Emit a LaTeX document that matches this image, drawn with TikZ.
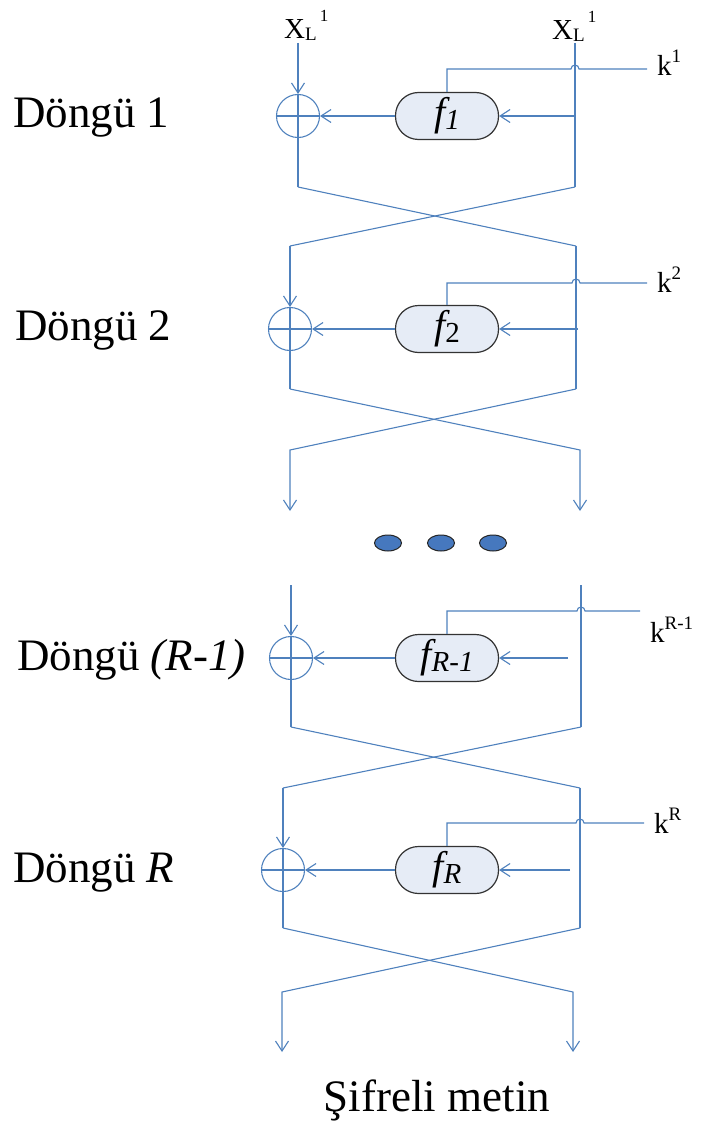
\documentclass[tikz,border=0pt]{standalone}
\usepackage{fontspec}
\setmainfont{Liberation Serif}
\usetikzlibrary{arrows.meta,shapes.geometric}

\definecolor{lineblue}{RGB}{79,129,189}
\definecolor{boxfill}{RGB}{230,236,246}
\definecolor{dotblue}{RGB}{70,120,190}

\newcommand{\bigtxt}{\fontsize{45}{50}\selectfont}
\newcommand{\midtxt}{\fontsize{29}{32}\selectfont}
\newcommand{\smtxt}{\fontsize{19}{21}\selectfont}
\newcommand{\fsub}[1]{{\fontsize{40}{44}\selectfont\itshape f}\raisebox{-4pt}{\fontsize{29}{32}\selectfont #1}}
\newcommand{\supx}[1]{\raisebox{13pt}{\smtxt #1}}
\newcommand{\xinput}{X\raisebox{-2pt}{\smtxt L}\hspace{3pt}\raisebox{17pt}{\fontsize{17}{19}\selectfont 1}}

\begin{document}
\begin{tikzpicture}[x=1pt,y=-1pt,
  wire/.style={draw=lineblue,line width=1.1pt},
  arr/.style={wire,-{Straight Barb[length=10pt,width=13pt]}},
  xorgate/.style={circle,draw=lineblue,line width=1.1pt,minimum size=43pt,inner sep=0pt,
    path picture={\draw[lineblue,line width=1.1pt] (path picture bounding box.west) -- (path picture bounding box.east);}},
  fbox/.style={draw=black!80,fill=boxfill,line width=1.2pt,rounded corners=23pt,
    minimum width=103pt,minimum height=47pt,inner sep=0pt},
  rnd/.style={anchor=base west,inner sep=0pt,font=\bigtxt},
  keylab/.style={anchor=base west,inner sep=0pt,font=\midtxt},
  dot/.style={ellipse,draw=black!85,fill=dotblue,line width=1pt,minimum width=27pt,minimum height=16pt,inner sep=0pt}
]
\useasboundingbox (0,0) rectangle (703,1126);

\node[keylab] (xa) at (284,39) {\xinput};
\node[keylab] (xb) at (552,40) {\xinput};

\foreach \i/\xl/\xr/\yt/\yf/\yk/\yb/\xin/\kx/\kb/\ft/\kt in {
  1/298/575/43/116/69/187/575/657/76/{\fsub{\itshape 1}}/1,
  2/290/576/246/329/283/389/578/657/292/{\fsub{2}}/2,
  3/291/581/585/658/611/727/568/650/642/{\fsub{\itshape R-1}}/R-1,
  4/283/580/788/870/823/928/570/654/833/{\fsub{\itshape R}}/R}{
  \coordinate (lt\i) at (\xl,\yt);
  \coordinate (rt\i) at (\xr,\yt);
  \coordinate (lb\i) at (\xl,\yb);
  \coordinate (rb\i) at (\xr,\yb);
  \coordinate (in\i) at (\xin,\yf);
  \coordinate (ke\i) at (\kx-10,\yk);
  \node[xorgate] (x\i) at (\xl,\yf) {};
  \node[fbox] (f\i) at (447,\yf) {\ft};
  \node[keylab] (k\i) at (\kx,\kb) {k\supx{\kt}};
  \draw[arr] (lt\i) -- (x\i.north);
  \draw[wire] (x\i.north) -- (lb\i);
  \draw[wire] (rt\i) -- (rb\i);
  \draw[arr] (in\i) -- (f\i.east);
  \draw[arr] (f\i.west) -- (x\i.east);
  \draw[wire] (f\i.north) |- (\xr-4,\yk) arc[start angle=180,end angle=0,radius=4pt] -- (ke\i);
}

\node[rnd] (r1) at (13,128) {Döngü 1};
\node[rnd] (r2) at (15,340) {Döngü 2};
\node[rnd] (r3) at (17,670) {Döngü \textit{(R-1)}};
\node[rnd] (r4) at (13,882) {Döngü \textit{R}};

\draw[wire] (lb1) -- (rt2);
\draw[wire] (rb1) -- (lt2);

\coordinate (ca) at (580,450);
\coordinate (cb) at (290,450);
\coordinate (ea) at (580,511);
\coordinate (eb) at (290,511);
\draw[arr] (lb2) -- (ca) -- (ea);
\draw[arr] (rb2) -- (cb) -- (eb);

\node[dot] (d1) at (388,543) {};
\node[dot] (d2) at (441,543) {};
\node[dot] (d3) at (493,543) {};

\draw[wire] (lb3) -- (rt4);
\draw[wire] (rb3) -- (lt4);

\coordinate (oa) at (573,992);
\coordinate (ob) at (282,992);
\coordinate (fa) at (573,1052);
\coordinate (fb) at (282,1052);
\draw[arr] (lb4) -- (oa) -- (fa);
\draw[arr] (rb4) -- (ob) -- (fb);

\node[anchor=base,inner sep=0pt,font=\bigtxt] (out) at (437,1111) {Şifreli metin};
\end{tikzpicture}
\end{document}
